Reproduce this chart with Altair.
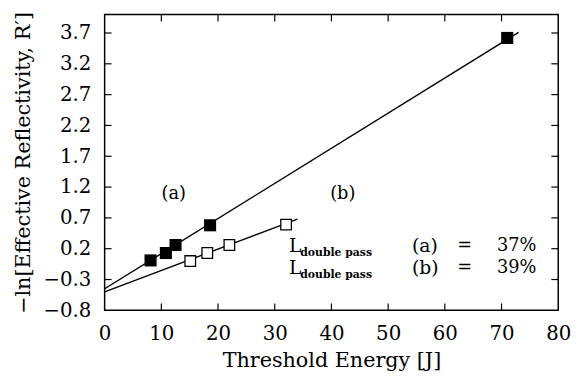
import altair as alt
import pandas as pd

# Data
a_x = [8.1, 10.8, 12.5, 18.6, 71.0]
a_y = [0.01, 0.13, 0.26, 0.58, 3.62]
b_x = [15.1, 18.1, 22.0, 32.0]
b_y = [0.0, 0.13, 0.26, 0.59]

fit_a_x = [0, 73]
fit_a_y = [-0.45, 3.71]
fit_b_x = [0, 34]
fit_b_y = [-0.50, 0.68]

x_ticks = [0, 10, 20, 30, 40, 50, 60, 70, 80]
y_ticks = [-0.8, -0.3, 0.2, 0.7, 1.2, 1.7, 2.2, 2.7, 3.2, 3.7]

X_DOM = [0, 80]
Y_DOM = [-0.8, 4.0]
W, H = 460, 300
FONT = "DejaVu Serif"

xs = alt.Scale(domain=X_DOM, nice=False, zero=False, padding=0)
ys = alt.Scale(domain=Y_DOM, nice=False, zero=False, padding=0)

X = alt.X("x:Q", scale=xs, title="Threshold Energy [J]",
          axis=alt.Axis(values=x_ticks, ticks=False, domain=False, grid=False,
                        labelOverlap=False, labelFlush=False,
                        labelFont=FONT, labelFontSize=20, labelPadding=14,
                        titleFont=FONT, titleFontSize=21, titleFontWeight="normal",
                        titlePadding=6, labelColor="black", titleColor="black"))
Y = alt.Y("y:Q", scale=ys, title="−ln[Effective Reflectivity, R′]",
          axis=alt.Axis(values=y_ticks, ticks=False, domain=False, grid=False,
                        format=".1f", labelOverlap=False, labelFlush=False,
                        labelFont=FONT, labelFontSize=20, labelPadding=14,
                        titleFont=FONT, titleFontSize=21, titleFontWeight="normal",
                        titlePadding=10, labelColor="black", titleColor="black"))

pts_a = pd.DataFrame({"x": a_x, "y": a_y})
pts_b = pd.DataFrame({"x": b_x, "y": b_y})
line_a = pd.DataFrame({"x": fit_a_x, "y": fit_a_y})
line_b = pd.DataFrame({"x": fit_b_x, "y": fit_b_y})

la = alt.Chart(line_a).mark_line(color="black", strokeWidth=1.4, clip=True).encode(x=X, y=Y)
lb = alt.Chart(line_b).mark_line(color="black", strokeWidth=1.4, clip=True).encode(x=X, y=Y)
pa = alt.Chart(pts_a).mark_point(shape="square", filled=True, color="black", size=150, opacity=1).encode(x=X, y=Y)
pb = alt.Chart(pts_b).mark_point(shape="square", filled=True, fill="white", stroke="black",
                                 strokeWidth=1.3, size=115, opacity=1).encode(x=X, y=Y)

# inner ticks
xt = pd.DataFrame({"x": x_ticks[1:-1]})
yt = pd.DataFrame({"y": y_ticks[1:]})
tb = alt.Chart(xt).mark_rule(color="black", strokeWidth=1.2).encode(
    x=X, y=alt.value(H), y2=alt.value(H - 7))
tt = alt.Chart(xt).mark_rule(color="black", strokeWidth=1.2).encode(
    x=X, y=alt.value(0), y2=alt.value(7))
tl = alt.Chart(yt).mark_rule(color="black", strokeWidth=1.2).encode(
    y=Y, x=alt.value(0), x2=alt.value(7))
tr = alt.Chart(yt).mark_rule(color="black", strokeWidth=1.2).encode(
    y=Y, x=alt.value(W), x2=alt.value(W - 7))

# annotations
ann = pd.DataFrame({
    "x": [12.2, 42.0],
    "y": [1.09, 1.09],
    "t": ["(a)", "(b)"],
})
tann = alt.Chart(ann).mark_text(font=FONT, fontSize=18, color="black", align="center",
                                baseline="middle").encode(x=X, y=Y, text="t:N")

leg_rows_y = [0.24, -0.11]
sub_rows_y = [0.13, -0.23]
legL = pd.DataFrame({"x": [32.5, 32.5], "y": leg_rows_y, "t": ["L", "L"]})
legSub = pd.DataFrame({"x": [34.5, 34.5], "y": sub_rows_y, "t": ["double pass", "double pass"]})
legAB = pd.DataFrame({"x": [54.2, 54.2], "y": leg_rows_y, "t": ["(a)", "(b)"]})
legEq = pd.DataFrame({"x": [62.2, 62.2], "y": leg_rows_y, "t": ["=", "="]})
legPct = pd.DataFrame({"x": [69.2, 69.2], "y": leg_rows_y, "t": ["37%", "39%"]})

def txt(df, size, weight="normal"):
    return alt.Chart(df).mark_text(font=FONT, fontSize=size, fontWeight=weight, color="black",
                                   align="left", baseline="middle").encode(x=X, y=Y, text="t:N")

chart = alt.layer(
    la, lb, pa, pb, tb, tt, tl, tr, tann,
    txt(legL, 19), txt(legSub, 11, "bold"), txt(legAB, 19), txt(legEq, 18), txt(legPct, 18),
).properties(
    width=W, height=H,
    autosize=alt.AutoSizeParams(type="none"),
    padding={"left": 98, "top": 4, "right": 17, "bottom": 65},
    background="white",
).configure_view(stroke="black", strokeWidth=1.5
).configure_axis(labelOverlap=False)

chart.save("out.html", embed_options={"renderer": "svg", "actions": False})
